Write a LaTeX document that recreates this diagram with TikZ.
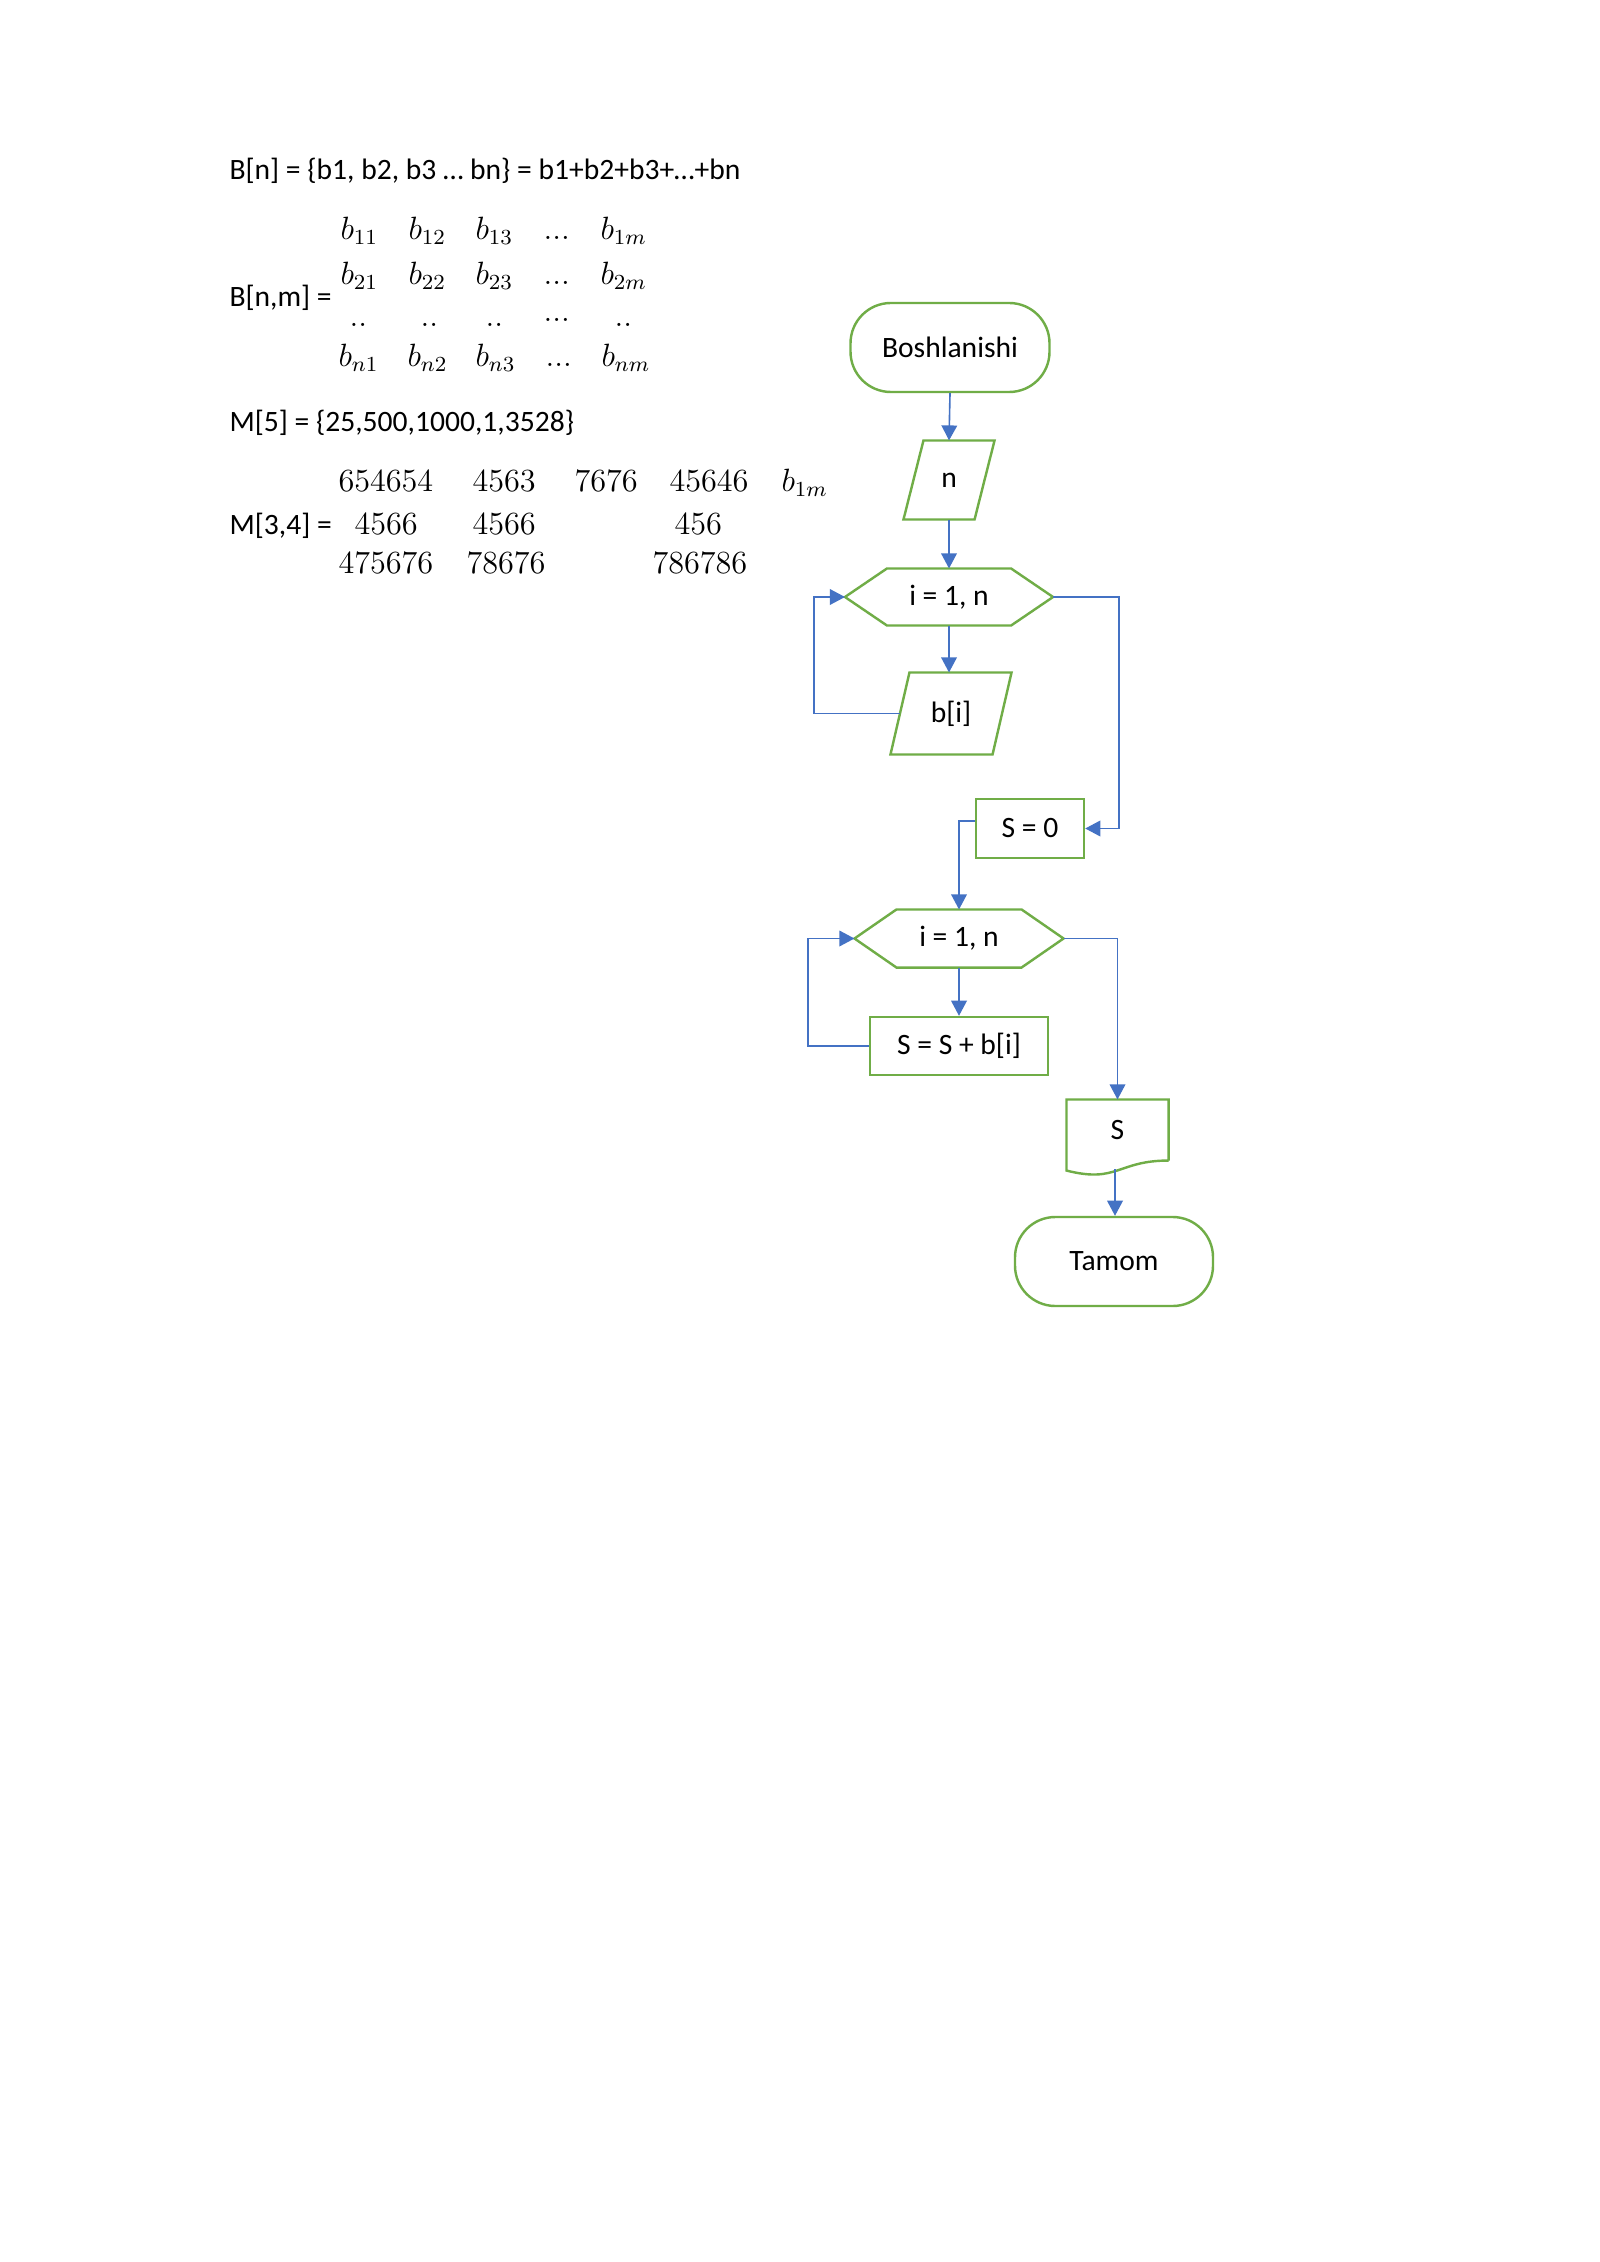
\documentclass[tikz,border=0pt]{standalone}
\usepackage{fontspec}
\setmainfont{Carlito}
\usetikzlibrary{arrows.meta,calc}
\definecolor{flgreen}{HTML}{70AD47}
\definecolor{flblue}{HTML}{4472C4}
\def\pxu{0.37205pt}
\newcommand{\tdots}{{.}{.}{.}}
\begin{document}
\begin{tikzpicture}[x=0.37205pt,y=-0.37205pt,
  txt/.style={anchor=base west, inner sep=0, font=\fontsize{11}{13}\selectfont},
  mth/.style={anchor=base west, inner sep=0, font=\fontsize{12}{14}\selectfont},
  box/.style={draw=flgreen, line width=0.9pt, inner sep=0, font=\fontsize{11}{13}\selectfont},
  shp/.style={inner sep=0, font=\fontsize{11}{13}\selectfont},
  outl/.style={draw=flgreen, line width=0.9pt, line join=miter},
  conn/.style={draw=flblue, line width=0.6pt, -{Triangle[length=5.6pt,width=5.8pt]}},
]
\useasboundingbox (0,0) rectangle (1600,2262);
\fill[white] (0,0) rectangle (1600,2262);

% ---------- text block ----------
\node[txt] (t1) at (229,180) {B[n] = \{b1, b2, b3 … bn\} = b1+b2+b3+…+bn};
\node[txt] (t2) at (229,307) {B[n,m] =};
% matrix rows
\node[mth] (b11) at (340,240) {$b_{11}$};
\node[mth] (b12) at (408,240) {$b_{12}$};
\node[mth] (b13) at (475,240) {$b_{13}$};
\node[mth] (b1d) at (543,240) {$\tdots$};
\node[mth] (b1m) at (600,240) {$b_{1m}$};
\node[mth] (b21) at (340,285) {$b_{21}$};
\node[mth] (b22) at (408,285) {$b_{22}$};
\node[mth] (b23) at (475,285) {$b_{23}$};
\node[mth] (b2d) at (543,285) {$\tdots$};
\node[mth] (b2m) at (600,285) {$b_{2m}$};
\node[mth] (r31) at (349,327) {${.}{.}$};
\node[mth] (r32) at (420,327) {${.}{.}$};
\node[mth] (r33) at (485,327) {${.}{.}$};
\node[mth] (r34) at (543,322) {$\tdots$};
\node[mth] (r35) at (614,327) {${.}{.}$};
\node[mth] (bn1) at (338,367) {$b_{n1}$};
\node[mth] (bn2) at (407,367) {$b_{n2}$};
\node[mth] (bn3) at (475,367) {$b_{n3}$};
\node[mth] (bnd) at (545,367) {$\tdots$};
\node[mth] (bnm) at (601,367) {$b_{nm}$};

\node[txt] (t3) at (229,432) {M[5] = \{25,500,1000,1,3528\}};
\node[txt] (t4) at (229,535) {M[3,4] =};
\node[mth] (m11) at (338,492) {$654654$};
\node[mth] (m12) at (472,492) {$4563$};
\node[mth] (m13) at (574,492) {$7676$};
\node[mth] (m14) at (669,492) {$45646$};
\node[mth] (m15) at (781,492) {$b_{1m}$};
\node[mth] (m21) at (354,535) {$4566$};
\node[mth] (m22) at (472,535) {$4566$};
\node[mth] (m23) at (674,535) {$456$};
\node[mth] (m31) at (338,573) {$475676$};
\node[mth] (m32) at (466,573) {$78676$};
\node[mth] (m33) at (652,573) {$786786$};

% ---------- flowchart ----------
\node[box, rounded corners=15pt, minimum width=199*\pxu, minimum height=89*\pxu] (start) at (950,347.5) {Boshlanishi};

\node[shp, minimum width=90*\pxu, minimum height=78*\pxu] (nin) at (949,480) {n};
\draw[outl] ([xshift=20*\pxu]nin.north west) -- (nin.north east) -- ([xshift=-20*\pxu]nin.south east) -- (nin.south west) -- cycle;

\node[shp, minimum width=207*\pxu, minimum height=56*\pxu] (h1) at (949,597) {i = 1, n};
\draw[outl] (h1.west) -- ([xshift=42*\pxu]h1.north west) -- ([xshift=-42*\pxu]h1.north east) -- (h1.east) -- ([xshift=-42*\pxu]h1.south east) -- ([xshift=42*\pxu]h1.south west) -- cycle;

\node[shp, minimum width=120*\pxu, minimum height=81*\pxu] (bi) at (951,713.5) {b[i]};
\draw[outl] ([xshift=19*\pxu]bi.north west) -- (bi.north east) -- ([xshift=-19*\pxu]bi.south east) -- (bi.south west) -- cycle;

\node[box, minimum width=108*\pxu, minimum height=59*\pxu] (s0) at (1030,828.5) {S = 0};

\node[shp, minimum width=208*\pxu, minimum height=57*\pxu] (h2) at (959,938.5) {i = 1, n};
\draw[outl] (h2.west) -- ([xshift=42*\pxu]h2.north west) -- ([xshift=-42*\pxu]h2.north east) -- (h2.east) -- ([xshift=-42*\pxu]h2.south east) -- ([xshift=42*\pxu]h2.south west) -- cycle;

\node[box, minimum width=178*\pxu, minimum height=58*\pxu] (ss) at (959,1046) {S = S + b[i]};

\node[shp, minimum width=101*\pxu, minimum height=60*\pxu] (doc) at (1117.5,1130) {S};
\draw[outl] (doc.south east) -- (doc.north east) -- (doc.north west) -- ([yshift=-10*\pxu]doc.south west) .. controls ([yshift=-23*\pxu]doc.south) and (doc.south) .. (doc.south east);

\node[box, rounded corners=15pt, minimum width=198*\pxu, minimum height=89*\pxu] (tam) at (1114,1261.5) {Tamom};

% ---------- connectors ----------
\coordinate (l1) at (814,597);
\coordinate (r1) at (1119,828.5);
\coordinate (l2) at (808,938.5);
\coordinate (dw) at (1115,1169);

\draw[conn] (start.south) -- (nin.north);
\draw[conn] (nin.south) -- (h1.north);
\draw[conn] (h1.south) -- (h1.south |- bi.north);
\draw[conn] ([xshift=9.5*\pxu]bi.west) -| (l1) -- (h1.west);
\draw[conn] (h1.east) -| (r1) -- (s0.east);
\draw[conn] ([yshift=7.5*\pxu]s0.west) -| (h2.north);
\draw[conn] (h2.south) -- (ss.north);
\draw[conn] (ss.west) -| (l2) -- (h2.west);
\draw[conn] (h2.east) -| (doc.north);
\draw[conn] (dw) -- (dw |- tam.north);
\end{tikzpicture}
\end{document}
